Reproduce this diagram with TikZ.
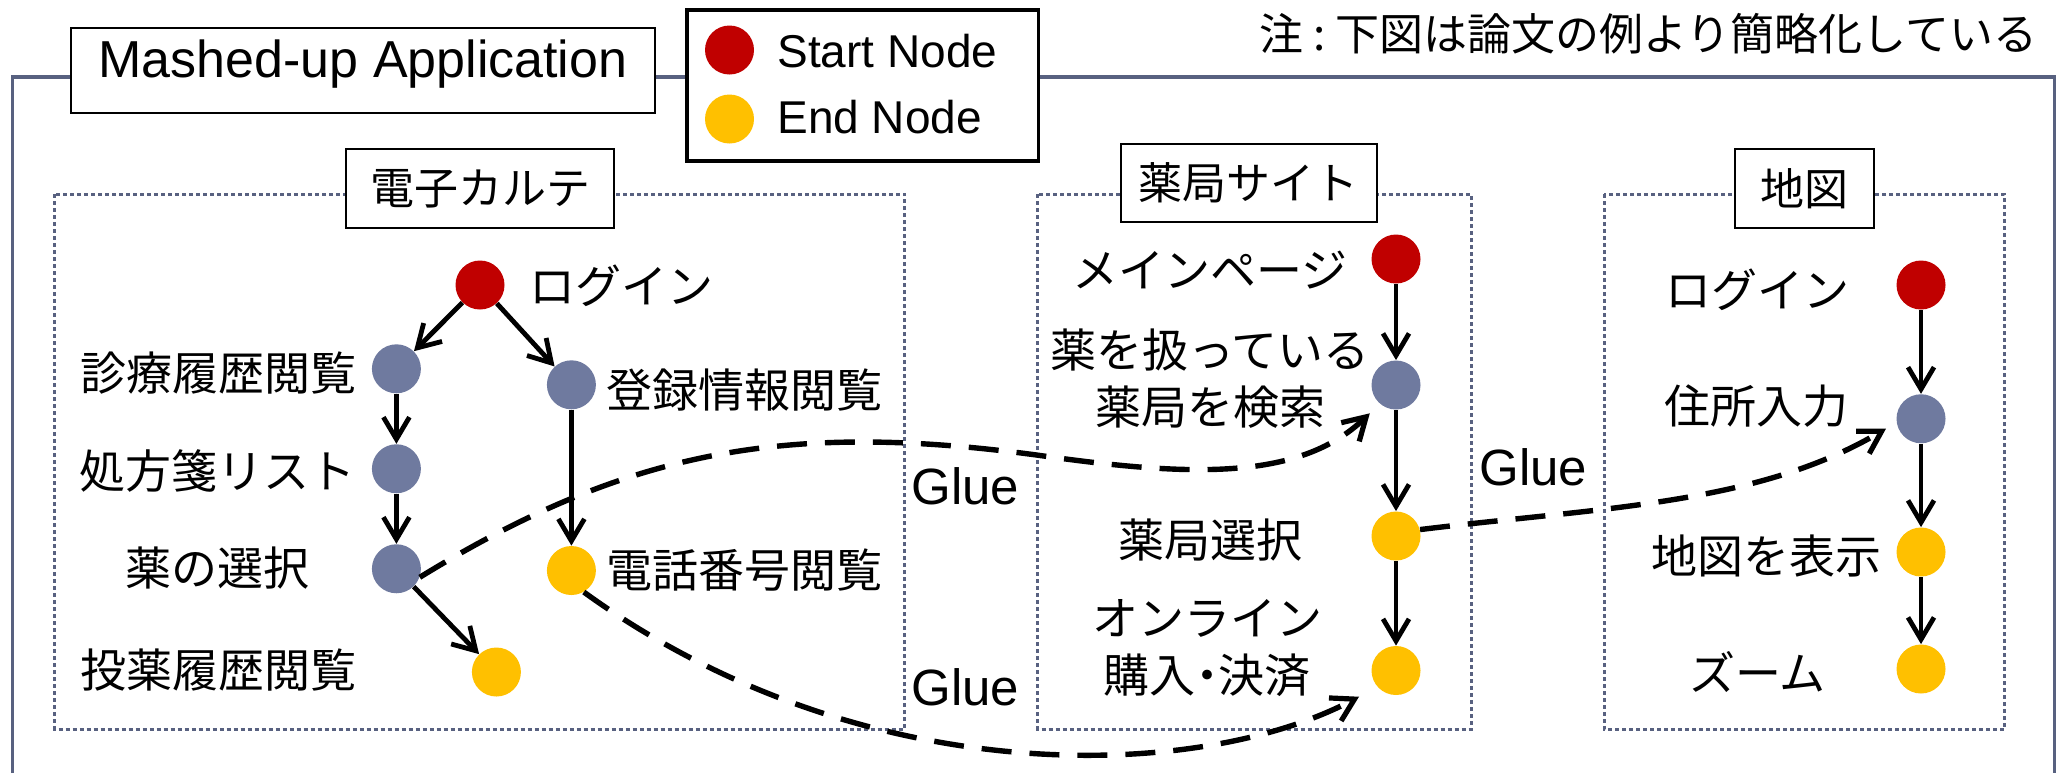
\documentclass[tikz,border=0pt]{standalone}
\usepackage{fontspec}
\setmainfont{Liberation Sans}
\newfontfamily\jp{Noto Sans CJK JP}
\usetikzlibrary{arrows.meta}
\definecolor{cred}{RGB}{192,0,0}
\definecolor{cgray}{RGB}{111,122,159}
\definecolor{cyel}{RGB}{255,192,0}
\definecolor{cframe}{RGB}{88,97,128}
\begin{document}
\begin{tikzpicture}[x=0.5pt,y=-0.5pt,
  dot/.style={circle,inner sep=0pt,minimum size=24.5pt},
  startn/.style={dot,fill=cred},
  midn/.style={dot,fill=cgray},
  endn/.style={dot,fill=cyel},
  lbl/.style={font=\jp\fontsize{23}{28.5}\selectfont,inner sep=0pt,align=center},
  flow/.style={line width=2.4pt,-{Straight Barb[length=11pt,width=13pt,line width=2.4pt]}},
  glue/.style={line width=2.7pt,dash pattern=on 15pt off 9pt,-{Straight Barb[length=11pt,width=13pt,line width=2.6pt]}},
  region/.style={draw=cframe,line width=1.5pt,dash pattern=on 2pt off 1.5pt},
  tbox/.style={draw,fill=white,line width=1pt,inner sep=0pt,font=\jp\fontsize{22}{26}\selectfont},
  gluetxt/.style={font=\fontsize{25.5}{30}\selectfont,inner sep=0pt,anchor=base west},
  legtxt/.style={font=\fontsize{23}{28}\selectfont,inner sep=0pt,anchor=base west},
]
\useasboundingbox (0,0) rectangle (2064,773);

% outer frame
\draw[cframe,line width=1.8pt] (12.5,773) -- (12.5,77) -- (2054.6,77) -- (2054.6,773);

% title and legend
\node[draw,fill=white,line width=1pt,minimum width=292pt,minimum height=42.25pt,inner sep=0pt,
  text height=0.716em,text depth=0pt,font=\fontsize{26}{30}\selectfont] (title) at (363,70.25) {Mashed-up Application};
\node[draw,fill=white,line width=1.75pt,minimum width=175.7pt,minimum height=75.5pt,inner sep=0pt] (legend) at (862.7,85.5) {};
\node[startn] (ls) at (729.5,50) {};
\node[endn] (le) at (729.5,119) {};
\node[legtxt] (lst) at (777,67) {Start Node};
\node[legtxt] (let) at (777,133) {End Node};

% note
\node[font=\jp\fontsize{22}{26}\selectfont,inner sep=0pt,anchor=east] (note) at (2038,33.5) {注\hspace{5pt}:\hspace{5pt}下図は論文の例より簡略化している};

% regions
\draw[region] (54.5,194) rectangle (904.5,729);
\draw[region] (1037.5,194) rectangle (1471,729);
\draw[region] (1604,194) rectangle (2004.6,729);
\node[tbox,minimum width=134pt,minimum height=39.5pt] (tkarte) at (480,188.5) {電子カルテ};
\node[tbox,minimum width=127.75pt,minimum height=39pt] (tyakkyoku) at (1248.75,183) {薬局サイト};
\node[tbox,minimum width=69.3pt,minimum height=39.5pt] (tchizu) at (1804.7,188.5) {地図};

% Glue labels
\node[gluetxt] (glue1) at (911,504.5) {Glue};
\node[gluetxt] (glue2) at (911,705) {Glue};
\node[gluetxt] (glue3) at (1479,485.7) {Glue};

% box 1 nodes
\node[startn] (k1) at (480,285) {};
\node[midn] (k2) at (396.4,368.8) {};
\node[midn] (k3) at (571.4,384.8) {};
\node[midn] (k4) at (396.4,468.75) {};
\node[midn] (k5) at (396.4,568.75) {};
\node[endn] (k6) at (571.4,570.5) {};
\node[endn] (k7) at (496.4,672) {};
\node[lbl,anchor=west] (k1l) at (529,286) {ログイン};
\node[lbl] (k2l) at (218,373) {診療履歴閲覧};
\node[lbl,anchor=west] (k3l) at (606,390) {登録情報閲覧};
\node[lbl] (k4l) at (217,471) {処方箋リスト};
\node[lbl] (k5l) at (217,568) {薬の選択};
\node[lbl,anchor=west] (k6l) at (606,570) {電話番号閲覧};
\node[lbl] (k7l) at (218,670) {投薬履歴閲覧};

% box 2 nodes
\node[startn] (p1) at (1396,259) {};
\node[midn] (p2) at (1396,385) {};
\node[endn] (p3) at (1396,536) {};
\node[endn] (p4) at (1396,670.5) {};
\node[lbl] (p1l) at (1210,270) {メインページ};
\node[lbl] (p2l) at (1210,378.5) {薬を扱っている\\薬局を検索};
\node[lbl] (p3l) at (1210,540) {薬局選択};
\node[lbl] (p4l) at (1207,648) {オンライン\\購入\kern-0.25em・\kern-0.25em 決済};

% box 3 nodes
\node[startn] (m1) at (1921,285) {};
\node[midn] (m2) at (1921,418.75) {};
\node[endn] (m3) at (1921,552) {};
\node[endn] (m4) at (1921,669) {};
\node[lbl] (m1l) at (1757,290) {ログイン};
\node[lbl] (m2l) at (1756,406) {住所入力};
\node[lbl] (m3l) at (1766,556) {地図を表示};
\node[lbl] (m4l) at (1757.5,672) {ズーム};

% flow arrows
\draw[flow] (k1) -- (k2);
\draw[flow] (k1) -- (k3);
\draw[flow] (k2) -- (k4);
\draw[flow] (k4) -- (k5);
\draw[flow] (k3) -- (k6);
\draw[flow] (k5) -- (k7);
\draw[flow] (p1) -- (p2);
\draw[flow] (p2) -- (p3);
\draw[flow] (p3) -- (p4);
\draw[flow] (m1) -- (m2);
\draw[flow] (m2) -- (m3);
\draw[flow] (m3) -- (m4);

% glue connectors
\coordinate (gm1) at (1036.6,455);
\coordinate (gt1) at (1369.8,413.3);
\coordinate (gt2) at (1359,696.7);
\coordinate (gt3) at (1886,428.6);
\draw[glue] (k5.-20) .. controls (630,448) and (790,422) .. (gm1) .. controls (1185,476) and (1297.8,482.3) .. (gt1);
\draw[glue] (k6.-60) .. controls (862.7,793.9) and (1200,781.1) .. (gt2);
\draw[glue] (p3.15) .. controls (1600.7,507.4) and (1756.9,504.95) .. (gt3);
\end{tikzpicture}
\end{document}
